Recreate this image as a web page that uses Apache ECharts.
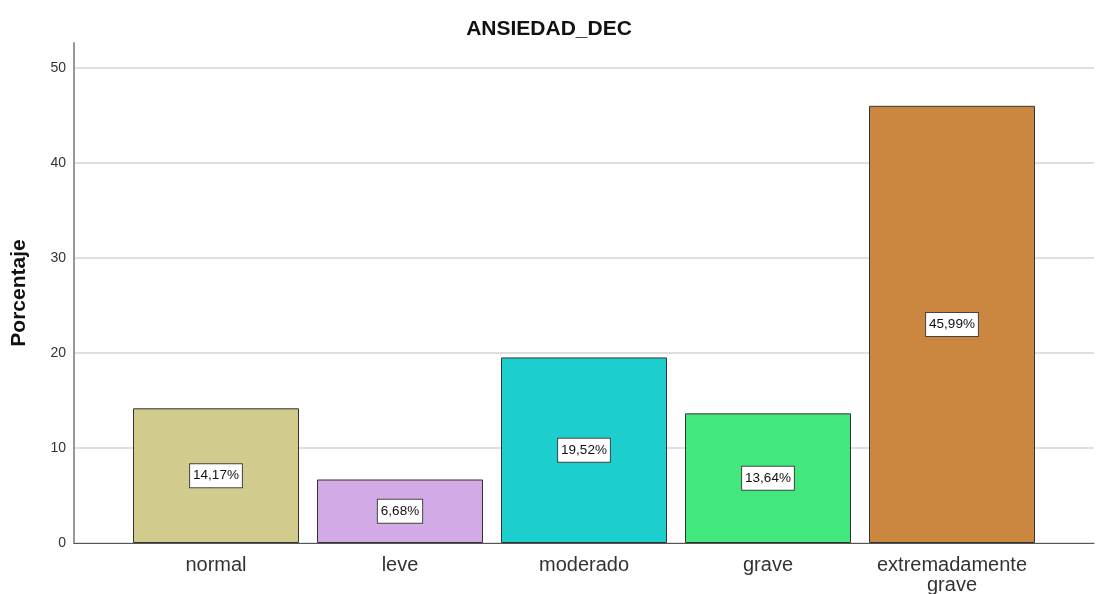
<!DOCTYPE html>
<html>
<head>
<meta charset="utf-8">
<script src="https://cdn.jsdelivr.net/npm/echarts@6/dist/echarts.min.js"></script>
<style>
  html, body { margin: 0; padding: 0; background: #fff; }
  #chart { width: 1098px; height: 594px; }
</style>
</head>
<body>
<div id="chart"></div>
<script>
// categorías y porcentajes
const categories = ['normal', 'leve', 'moderado', 'grave', 'extremadamente\ngrave']
const percentages = [14.17, 6.68, 19.52, 13.64, 45.99]
const barColors = ['#D1CB8E', '#D2AAE5', '#1DCECE', '#42E87E', '#CB863F']
const yTicks = [0, 10, 20, 30, 40, 50]

const chart = echarts.init(document.getElementById('chart'))
const font = 'Liberation Sans, Arial, sans-serif'

const option = {
  animation: false,
  textStyle: { fontFamily: font },
  title: {
    text: 'ANSIEDAD_DEC',
    left: 'center',
    top: 14,
    textStyle: { fontSize: 21, fontWeight: 'bold', color: '#111', fontFamily: font }
  },
  grid: [
    { left: 74, right: 4, top: 43, bottom: 51, outerBoundsMode: 'none' },
    { left: 124, right: 54, top: 43, bottom: 51, outerBoundsMode: 'none' }
  ],
  xAxis: [
    {
      gridIndex: 0, type: 'value', min: 0, max: 1,
      axisLine: { show: true, lineStyle: { color: '#555', width: 1 } },
      axisTick: { show: false }, axisLabel: { show: false }, splitLine: { show: false }
    },
    {
      gridIndex: 1, type: 'category', data: categories,
      axisLine: { show: false }, axisTick: { show: false },
      axisLabel: {
        interval: 0, hideOverlap: false,
        fontSize: 20, color: '#333', margin: 12, lineHeight: 20, fontFamily: font
      }
    }
  ],
  yAxis: [
    {
      gridIndex: 0, type: 'value', min: 0, max: 52.6, interval: 10,
      name: 'Porcentaje', nameLocation: 'middle', nameGap: 44,
      nameTextStyle: { fontSize: 21, fontWeight: 'bold', color: '#111', fontFamily: font },
      axisLine: { show: true, lineStyle: { color: '#999', width: 2 } },
      axisTick: { show: false },
      axisLabel: {
        fontSize: 14, color: '#333', margin: 8, showMaxLabel: false,
        formatter: v => (yTicks.includes(v) ? String(v) : '')
      },
      splitLine: { show: true, showMaxLine: false, lineStyle: { color: '#d4d4d4', width: 1.5 } }
    },
    {
      gridIndex: 1, type: 'value', min: 0, max: 52.6, show: false
    }
  ],
  series: [{
    type: 'bar',
    xAxisIndex: 1,
    yAxisIndex: 1,
    barWidth: 166,
    data: percentages.map((v, i) => ({
      value: v,
      itemStyle: { color: barColors[i], borderColor: '#333', borderWidth: 1 }
    })),
    label: {
      show: true,
      position: 'inside',
      formatter: p => p.value.toFixed(2).replace('.', ',') + '%',
      fontSize: 13.5,
      color: '#111',
      backgroundColor: '#fff',
      borderColor: '#444',
      borderWidth: 1,
      padding: [5, 3, 4, 3],
      fontFamily: font
    }
  }]
}

chart.setOption(option)
</script>
</body>
</html>
